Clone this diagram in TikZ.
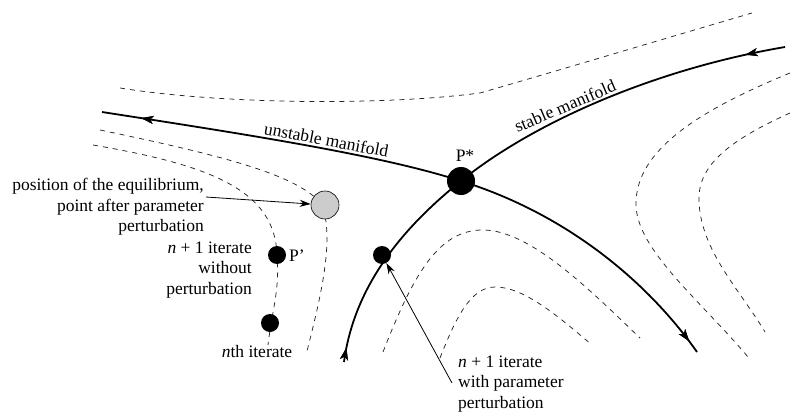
\documentclass[tikz,border=0pt]{standalone}
\usepackage{fontspec}
\setmainfont{Liberation Serif}
\usetikzlibrary{arrows.meta,decorations.markings}
\begin{document}
\begin{tikzpicture}[x=1pt,y=-1pt,
  manifold/.style={line width=1.8pt},
  flow/.style={line width=0.75pt, dash pattern=on 5pt off 5pt, black!85},
  bigdot/.style={circle, fill=black, inner sep=0pt, minimum size=#1},
  lbl/.style={font=\rmfamily\fontsize{17.5}{20.5}\selectfont, inner sep=0pt},
  pointer/.style={line width=0.8pt, -{Stealth[length=11pt,width=7pt]}},
  fwdtip/.style={postaction={decorate}, decoration={markings,
     mark=at position #1 with {\arrow{Stealth[length=12pt,width=8pt,inset=3pt]}}}},
  revtip/.style={postaction={decorate}, decoration={markings,
     mark=at position #1 with {\arrowreversed{Stealth[length=12pt,width=8pt,inset=3pt]}}}}
]
\useasboundingbox (0,0) rectangle (795,412);

% flow lines (dashed)
\draw[flow] (120,88) .. controls (220,104) and (380,106) .. (480,93)
            .. controls (560,70) and (660,40) .. (752,13);
\draw[flow] (100,130) .. controls (220,155) and (300,175) .. (322,205)
            .. controls (335,240) and (320,300) .. (306,355);
\draw[flow] (93,145) .. controls (210,165) and (275,190) .. (277,255)
            .. controls (280,290) and (272,310) .. (268,345);
\draw[flow] (383,352) .. controls (415,270) and (440,230) .. (483,230)
            .. controls (530,230) and (590,290) .. (640,338);
\draw[flow] (440,358) .. controls (455,320) and (470,287) .. (495,287)
            .. controls (525,287) and (560,318) .. (592,345);
\draw[flow] (790,73) .. controls (700,110) and (635,150) .. (636,205)
            .. controls (637,250) and (700,300) .. (748,357);
\draw[flow] (790,113) .. controls (730,140) and (698,165) .. (699,200)
            .. controls (700,250) and (740,290) .. (765,332);

% unstable manifold
\draw[manifold, revtip=0.06, fwdtip=0.98] (102,112) .. controls (250,135) and (380,155) .. (461,181)
      node[pos=0.55, sloped, above=2pt, lbl] (ulabel) {unstable manifold}
      .. controls (570,215) and (650,285) .. (697,352);
% stable manifold
\draw[manifold, fwdtip=0.07, revtip=0.975] (785,47) .. controls (650,70) and (530,125) .. (461,181)
      .. controls (410,222) and (355,280) .. (344,362);
\node[lbl, rotate=23] (slabel) at (565,106) {stable manifold};

% points
\node[bigdot=28pt] (Pstar) at (461,181) {};
\node[lbl] (Pstarlabel) at (465,156) {P*};
\node[bigdot=18pt] (Pwith) at (382,255) {};
\node[bigdot=18pt] (Pprime) at (277,255) {};
\node[lbl, anchor=west] (Pprimelabel) at (289,256) {P’};
\node[bigdot=18pt] (Pn) at (270,323) {};
\node[circle, draw=black, line width=0.6pt, fill=black!20, inner sep=0pt, minimum size=28pt] (Peq) at (325,205) {};

% labels
\node[lbl, align=right, anchor=east] (eqlabel) at (204,207)
  {position of the equilibrium,\\point after parameter\\perturbation};
\node[lbl, align=right, anchor=east] (wolabel) at (252,270)
  {\textit{n} + 1 iterate\\without\\perturbation};
\node[lbl] (nlabel) at (257,352) {\textit{n}th iterate};
\node[lbl, align=left, anchor=west] (wlabel) at (458,384)
  {\textit{n} + 1 iterate\\with parameter\\perturbation};

% pointers
\coordinate (eqstart) at (206,197);
\coordinate (wstart) at (452,383);
\draw[pointer] (eqstart) -- (Peq);
\draw[pointer] (wstart) -- (Pwith);
\end{tikzpicture}
\end{document}
